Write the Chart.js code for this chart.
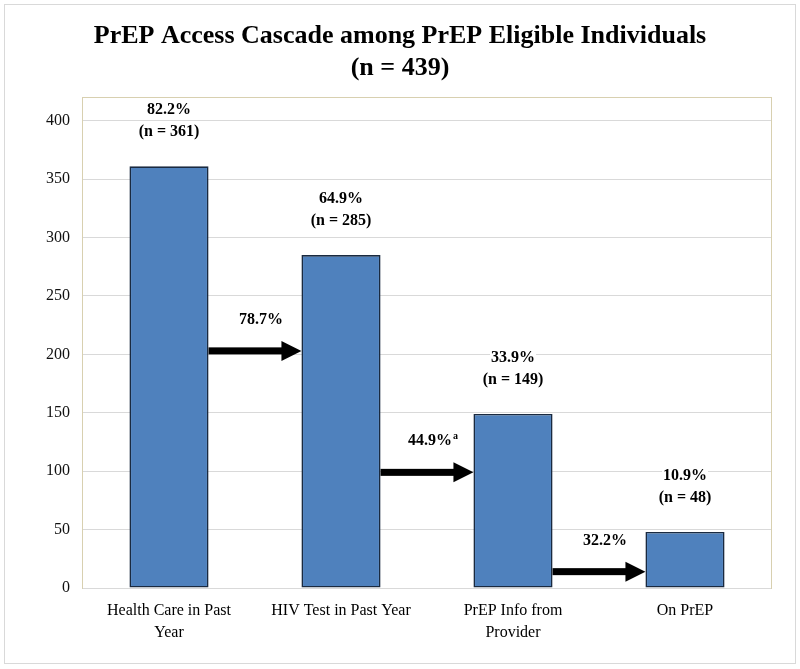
<!DOCTYPE html>
<html>
<head>
<meta charset="utf-8">
<script src="https://cdn.jsdelivr.net/npm/chart.js@4/dist/chart.umd.min.js"></script>
<style>
  body { margin: 0; background: #fff; }
  canvas { display: block; }
</style>
</head>
<body>
<canvas id="cascadeChart" width="800" height="669"></canvas>
<script>
const categories = [['Health Care in Past', 'Year'], 'HIV Test in Past Year', ['PrEP Info from', 'Provider'], 'On PrEP'];
const counts = [361, 285, 149, 48];
const percentLabels = ['82.2%', '64.9%', '33.9%', '10.9%'];
const nLabels = ['(n = 361)', '(n = 285)', '(n = 149)', '(n = 48)'];
const stepLabels = ['78.7%', '44.9%', '32.2%'];
const stepNotes = ['', 'a', ''];
const arrowLevels = [203, 99, 14]; // y value where each arrow sits
const yMax = 420;
const yStep = 50;

const serif = "'Liberation Serif', 'Times New Roman', serif";

// white page + light grey frame around the whole figure
const frame = {
  id: 'frame',
  beforeDraw(c) {
    const ctx = c.ctx;
    ctx.save();
    ctx.fillStyle = '#fff';
    ctx.fillRect(0, 0, c.width, c.height);
    ctx.strokeStyle = '#d9d9d9';
    ctx.lineWidth = 1;
    ctx.strokeRect(4.5, 4.5, 791, 659);
    ctx.restore();
  },
  beforeDatasetsDraw(c) {
    const a = c.chartArea;
    const ctx = c.ctx;
    ctx.save();
    ctx.strokeStyle = '#d8d0b0';
    ctx.lineWidth = 1;
    ctx.strokeRect(Math.round(a.left) - 0.5, Math.round(a.top) + 0.5, Math.round(a.right - a.left) + 1, Math.round(a.bottom - a.top));
    ctx.strokeStyle = '#d9d9d9';
    ctx.beginPath();
    ctx.moveTo(a.left, Math.round(a.bottom) + 0.5);
    ctx.lineTo(a.right, Math.round(a.bottom) + 0.5);
    ctx.stroke();
    ctx.restore();
  }
};

function labelLine(ctx, text, x, y) {
  const w = ctx.measureText(text).width;
  ctx.fillStyle = '#fff';
  ctx.fillRect(x - w / 2 - 1, y - 9, w + 2, 18);
  ctx.fillStyle = '#000';
  ctx.fillText(text, x, y);
}

// percentages and counts above the bars
const barLabels = {
  id: 'barLabels',
  afterDatasetsDraw(c) {
    const ctx = c.ctx;
    const bars = c.getDatasetMeta(0).data;
    ctx.save();
    ctx.font = 'bold 16px ' + serif;
    ctx.textAlign = 'center';
    ctx.textBaseline = 'middle';
    bars.forEach((b, i) => {
      labelLine(ctx, percentLabels[i], b.x, b.y - 56);
      labelLine(ctx, nLabels[i], b.x, b.y - 34);
    });
    ctx.restore();
  }
};

// black arrows between bars with step percentages
const arrows = {
  id: 'arrows',
  afterDatasetsDraw(c) {
    const ctx = c.ctx;
    const bars = c.getDatasetMeta(0).data;
    const y = c.scales.y;
    ctx.save();
    for (let i = 0; i < bars.length - 1; i++) {
      const x0 = bars[i].x + bars[i].width / 2;
      const x1 = bars[i + 1].x - bars[i + 1].width / 2;
      const ay = y.getPixelForValue(arrowLevels[i]);
      const head = 20;
      ctx.fillStyle = '#000';
      ctx.fillRect(x0, ay - 3.5, x1 - x0 - head + 1, 7);
      ctx.beginPath();
      ctx.moveTo(x1 - head, ay - 10);
      ctx.lineTo(x1, ay);
      ctx.lineTo(x1 - head, ay + 10);
      ctx.closePath();
      ctx.fill();

      const cx = (x0 + x1) / 2 + 6;
      ctx.font = 'bold 16px ' + serif;
      ctx.textBaseline = 'middle';
      const w = ctx.measureText(stepLabels[i]).width;
      ctx.font = 'bold 10px ' + serif;
      const wn = stepNotes[i] ? ctx.measureText(stepNotes[i]).width + 1 : 0;
      const left = cx - (w + wn) / 2;
      ctx.font = 'bold 16px ' + serif;
      ctx.textAlign = 'left';
      ctx.fillText(stepLabels[i], left, ay - 31);
      if (stepNotes[i]) {
        ctx.font = 'bold 10px ' + serif;
        ctx.fillText(stepNotes[i], left + w + 1, ay - 36);
      }
    }
    ctx.restore();
  }
};

const ctx = document.getElementById('cascadeChart').getContext('2d');
new Chart(ctx, {
  type: 'bar',
  data: {
    labels: categories,
    datasets: [{
      data: counts,
      backgroundColor: '#4f81bd',
      borderColor: '#1a2a40',
      borderWidth: 1.6,
      borderSkipped: false,
      barPercentage: 0.46,
      categoryPercentage: 1
    }]
  },
  options: {
    responsive: false,
    animation: false,
    layout: { padding: { left: 29, right: 29, top: 0, bottom: 0 } },
    plugins: {
      legend: { display: false },
      tooltip: { enabled: false },
      title: {
        display: true,
        text: ['PrEP Access Cascade among PrEP Eligible Individuals', '(n = 439)'],
        color: '#000',
        font: { family: serif, size: 26, weight: 'bold', lineHeight: 1.2 },
        padding: { top: 21, bottom: 14 }
      }
    },
    scales: {
      x: {
        grid: { display: false, drawTicks: false },
        border: { display: false },
        ticks: {
          color: '#000',
          padding: 12,
          maxRotation: 0,
          autoSkip: false,
          font: { family: serif, size: 16, lineHeight: 1.35 }
        },
        afterFit(s) { s.height = 81; }
      },
      y: {
        min: 0,
        max: yMax,
        grid: { color: '#d9d9d9', drawTicks: false },
        border: { display: false },
        ticks: {
          stepSize: yStep,
          color: '#111',
          padding: 13,
          font: { family: serif, size: 16 }
        },
        afterBuildTicks(s) { s.ticks = s.ticks.filter(t => t.value % yStep === 0); },
        afterFit(s) { s.width = 54; }
      }
    }
  },
  plugins: [frame, barLabels, arrows]
});
</script>
</body>
</html>
